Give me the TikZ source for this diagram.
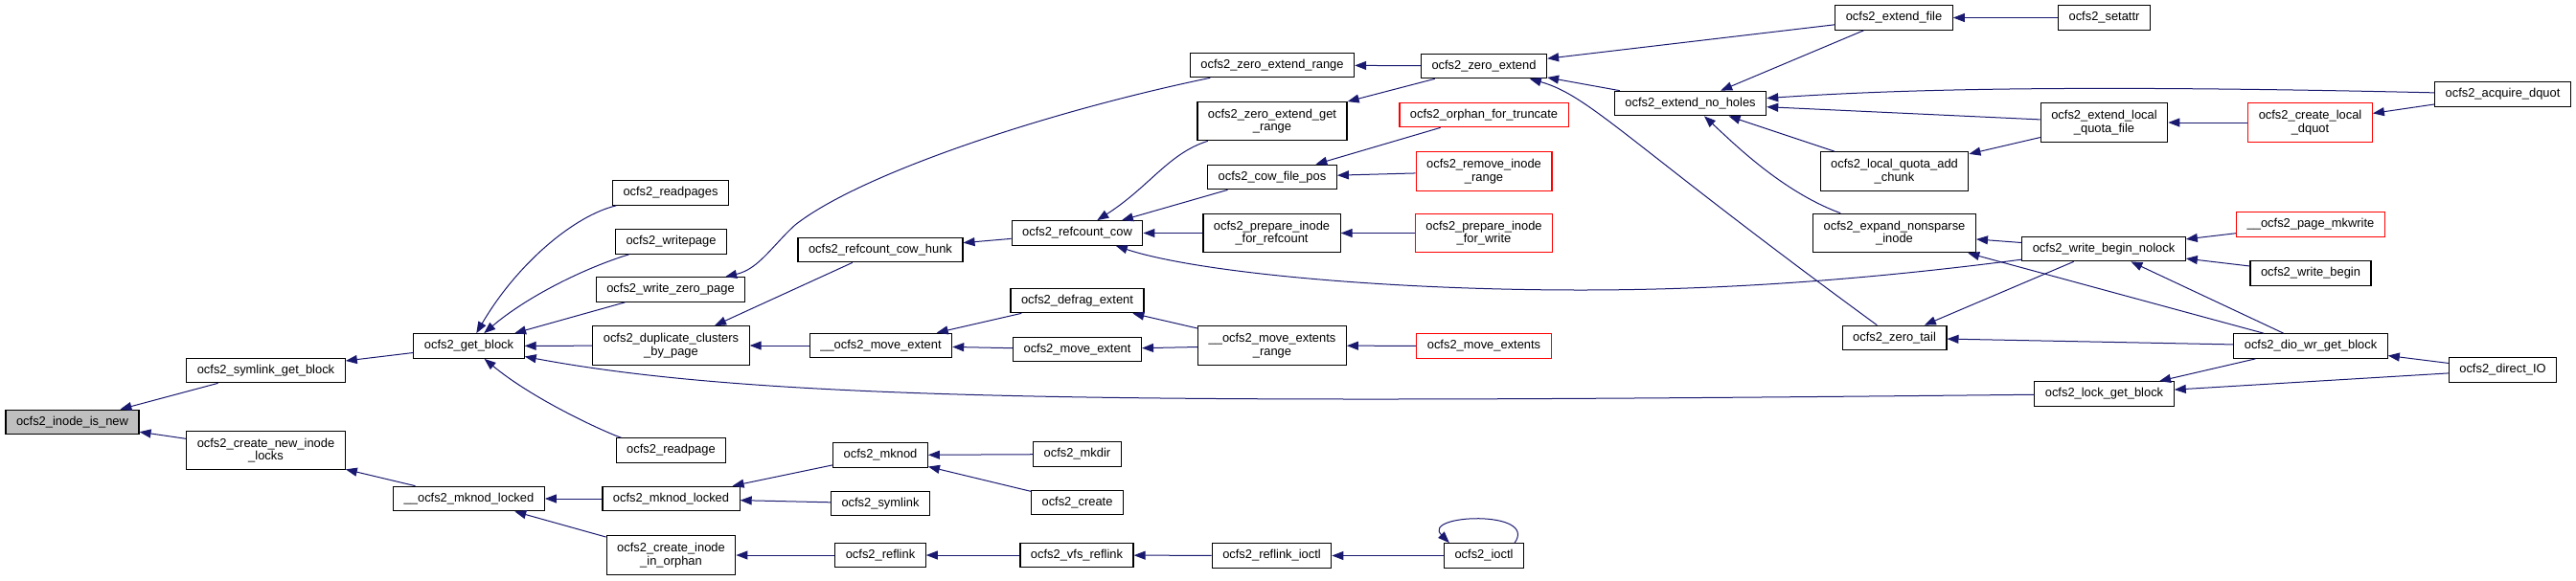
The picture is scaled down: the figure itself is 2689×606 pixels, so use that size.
\documentclass[tikz,border=0pt]{standalone}
\usepackage{fontspec}
\setmainfont{Liberation Sans}
\usetikzlibrary{arrows.meta}
\definecolor{edgeblue}{HTML}{191970}
\definecolor{rootgray}{HTML}{BFBFBF}
\tikzset{
  fnbox/.style={draw=black, line width=1.2pt, fill=white, align=center, inner xsep=11pt, inner ysep=2pt, minimum height=25.5pt, font=\fontsize{12.9}{13.4}\selectfont},
  twoline/.style={minimum height=40.5pt},
  rootbox/.style={fnbox, fill=rootgray},
  redbox/.style={fnbox, draw=red},
  call/.style={draw=edgeblue, line width=1pt, -{Triangle[length=12pt,width=9pt]}}
}
\begin{document}
\begin{tikzpicture}[x=1pt, y=-1pt]
\useasboundingbox (0,0) rectangle (2689,606);
\node[rootbox] (isnew) at (75.5,441) {ocfs2\_inode\_is\_new};
\node[fnbox] (symgb) at (277.5,387) {ocfs2\_symlink\_get\_block};
\node[fnbox, twoline] (crlocks) at (277.5,470.5) {ocfs2\_create\_new\_inode\\\_locks};
\node[fnbox] (getblock) at (489.5,361.5) {ocfs2\_get\_block};
\node[fnbox] (mknodlk0) at (489.5,521) {\_\_ocfs2\_mknod\_locked};
\node[fnbox] (readpages) at (700,201.5) {ocfs2\_readpages};
\node[fnbox] (writepage) at (700.5,252.5) {ocfs2\_writepage};
\node[fnbox] (wzpage) at (700,302.5) {ocfs2\_write\_zero\_page};
\node[fnbox, twoline] (dupcl) at (700.5,361) {ocfs2\_duplicate\_clusters\\\_by\_page};
\node[fnbox] (readpage) at (700.5,470.5) {ocfs2\_readpage};
\node[fnbox] (mknodlk) at (700.5,521) {ocfs2\_mknod\_locked};
\node[fnbox, twoline] (orphan) at (700.5,580) {ocfs2\_create\_inode\\\_in\_orphan};
\node[fnbox] (cowhunk) at (919,261) {ocfs2\_refcount\_cow\_hunk};
\node[fnbox] (mvext0) at (919.5,361) {\_\_ocfs2\_move\_extent};
\node[fnbox] (mknod) at (919,475.5) {ocfs2\_mknod};
\node[fnbox] (symlink) at (919,526) {ocfs2\_symlink};
\node[fnbox] (reflink) at (919,580) {ocfs2\_reflink};
\node[fnbox] (refcow) at (1124.5,243.5) {ocfs2\_refcount\_cow};
\node[fnbox] (defrag) at (1124.5,314) {ocfs2\_defrag\_extent};
\node[fnbox] (mvext) at (1124.5,365) {ocfs2\_move\_extent};
\node[fnbox] (mkdir) at (1124.5,474.5) {ocfs2\_mkdir};
\node[fnbox] (create) at (1124.5,525) {ocfs2\_create};
\node[fnbox] (vfsreflink) at (1124,580) {ocfs2\_vfs\_reflink};
\node[fnbox] (zerange) at (1328,68) {ocfs2\_zero\_extend\_range};
\node[fnbox, twoline] (zegetrange) at (1328,126.5) {ocfs2\_zero\_extend\_get\\\_range};
\node[fnbox] (cowpos) at (1328,185) {ocfs2\_cow\_file\_pos};
\node[fnbox, twoline] (prepref) at (1327.5,243.5) {ocfs2\_prepare\_inode\\\_for\_refcount};
\node[fnbox, twoline] (mvrange) at (1328,361) {\_\_ocfs2\_move\_extents\\\_range};
\node[fnbox] (reflioctl) at (1327.5,580.5) {ocfs2\_reflink\_ioctl};
\node[fnbox] (zeroext) at (1549,69) {ocfs2\_zero\_extend};
\node[redbox] (orphtrunc) at (1549,120) {ocfs2\_orphan\_for\_truncate};
\node[redbox, twoline] (rmrange) at (1549,179) {ocfs2\_remove\_inode\\\_range};
\node[redbox, twoline] (prepwrite) at (1549,243.5) {ocfs2\_prepare\_inode\\\_for\_write};
\node[redbox] (mvexts) at (1549,361.5) {ocfs2\_move\_extents};
\node[fnbox] (ioctl) at (1549,580.5) {ocfs2\_ioctl};
\node[fnbox] (noholes) at (1764.5,108) {ocfs2\_extend\_no\_holes};
\node[fnbox] (extfile) at (1977,18.5) {ocfs2\_extend\_file};
\node[fnbox, twoline] (quotaadd) at (1977.5,179) {ocfs2\_local\_quota\_add\\\_chunk};
\node[fnbox, twoline] (nonsparse) at (1977.5,243.5) {ocfs2\_expand\_nonsparse\\\_inode};
\node[fnbox] (zerotail) at (1977.5,353) {ocfs2\_zero\_tail};
\node[fnbox] (setattr) at (2196.5,18.5) {ocfs2\_setattr};
\node[fnbox, twoline] (extlocal) at (2196.5,128) {ocfs2\_extend\_local\\\_quota\_file};
\node[fnbox] (wbnolock) at (2196,260) {ocfs2\_write\_begin\_nolock};
\node[fnbox] (lockgb) at (2196.5,411.5) {ocfs2\_lock\_get\_block};
\node[redbox, twoline] (crlocal) at (2411.5,128) {ocfs2\_create\_local\\\_dquot};
\node[redbox] (mkwrite) at (2412,234.5) {\_\_ocfs2\_page\_mkwrite};
\node[fnbox] (wbegin) at (2412,285.5) {ocfs2\_write\_begin};
\node[fnbox] (diowr) at (2412,361.5) {ocfs2\_dio\_wr\_get\_block};
\node[fnbox] (acqdq) at (2612.5,98.5) {ocfs2\_acquire\_dquot};
\node[fnbox] (directio) at (2612.5,386.5) {ocfs2\_direct\_IO};
\draw[call] (symgb) -- (isnew);
\draw[call] (crlocks) -- (isnew);
\draw[call] (getblock) -- (symgb);
\draw[call] (mknodlk0) -- (crlocks);
\draw[call] (readpages) .. controls (600,225) and (540,275) .. (getblock);
\draw[call] (writepage) .. controls (610,280) and (550,310) .. (getblock);
\draw[call] (wzpage) -- (getblock);
\draw[call] (dupcl) -- (getblock);
\draw[call] (lockgb) .. controls (1200,422) and (800,420) .. (getblock);
\draw[call] (readpage) .. controls (640,455) and (560,420) .. (getblock);
\draw[call] (mknodlk) -- (mknodlk0);
\draw[call] (orphan) -- (mknodlk0);
\draw[call] (zerange) .. controls (1100,115) and (900,180) .. (830,235) .. controls (805,258) and (792,281) .. (wzpage);
\draw[call] (cowhunk) -- (dupcl);
\draw[call] (mvext0) -- (dupcl);
\draw[call] (mknod) -- (mknodlk);
\draw[call] (symlink) -- (mknodlk);
\draw[call] (reflink) -- (orphan);
\draw[call] (refcow) -- (cowhunk);
\draw[call] (defrag) -- (mvext0);
\draw[call] (mvext) -- (mvext0);
\draw[call] (mkdir) -- (mknod);
\draw[call] (create) -- (mknod);
\draw[call] (vfsreflink) -- (reflink);
\draw[call] (zegetrange) .. controls (1220,160) and (1200,195) .. (refcow);
\draw[call] (cowpos) -- (refcow);
\draw[call] (prepref) -- (refcow);
\draw[call] (wbnolock) .. controls (1950,292) and (1800,303) .. (1650,303) .. controls (1450,303) and (1250,285) .. (refcow);
\draw[call] (mvrange) -- (defrag);
\draw[call] (mvrange) -- (mvext);
\draw[call] (reflioctl) -- (vfsreflink);
\draw[call] (zeroext) -- (zerange);
\draw[call] (zeroext) -- (zegetrange);
\draw[call] (orphtrunc) -- (cowpos);
\draw[call] (rmrange) -- (cowpos);
\draw[call] (prepwrite) -- (prepref);
\draw[call] (mvexts) -- (mvrange);
\draw[call] (ioctl) -- (reflioctl);
\draw[call] ([xshift=-10pt]ioctl.north east) .. controls +(25,-35) and +(-30,-30) .. ([xshift=6pt]ioctl.north west);
\draw[call] (extfile) -- (zeroext);
\draw[call] (noholes) -- (zeroext);
\draw[call] (zerotail) .. controls (1700,150) and (1660,100) .. (zeroext);
\draw[call] (extfile) -- (noholes);
\draw[call] (acqdq) .. controls (2200,89) and (2000,92) .. (noholes);
\draw[call] (extlocal) -- (noholes);
\draw[call] (quotaadd) -- (noholes);
\draw[call] (nonsparse) .. controls (1860,200) and (1810,150) .. (noholes);
\draw[call] (setattr) -- (extfile);
\draw[call] (extlocal) -- (quotaadd);
\draw[call] (crlocal) -- (extlocal);
\draw[call] (acqdq) -- (crlocal);
\draw[call] (wbnolock) -- (nonsparse);
\draw[call] (diowr) -- (nonsparse);
\draw[call] (wbnolock) -- (zerotail);
\draw[call] (diowr) -- (zerotail);
\draw[call] (mkwrite) -- (wbnolock);
\draw[call] (wbegin) -- (wbnolock);
\draw[call] (diowr) -- (wbnolock);
\draw[call] (diowr) -- (lockgb);
\draw[call] (directio) -- (lockgb);
\draw[call] (directio) -- (diowr);
\end{tikzpicture}
\end{document}
